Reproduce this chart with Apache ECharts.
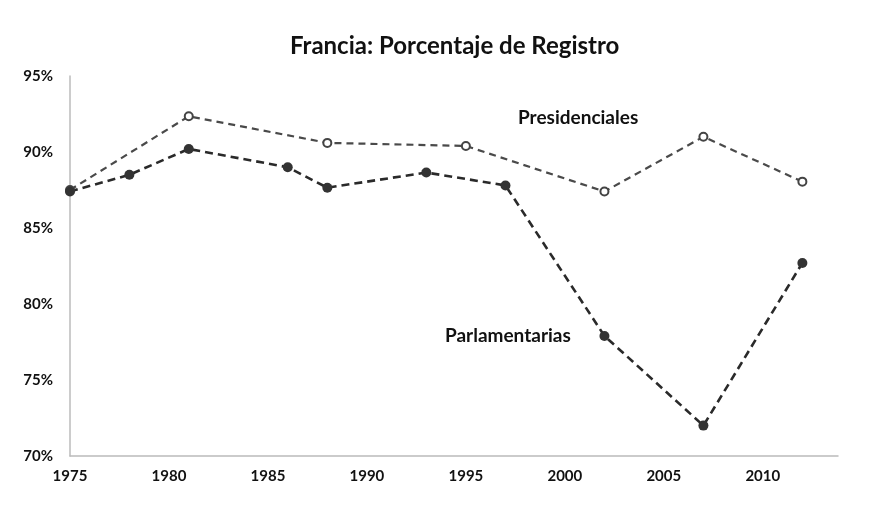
<!DOCTYPE html>
<html>
<head>
<meta charset="utf-8">
<script src="https://cdn.jsdelivr.net/npm/echarts@6/dist/echarts.min.js"></script>
<style>
  html, body { margin: 0; padding: 0; background: #fff; }
  #chart { width: 878px; height: 508px; }
</style>
</head>
<body>
<div id="chart"></div>
<script>
// años de elección y porcentaje de registro
const presYears = [1975, 1981, 1988, 1995, 2002, 2007, 2012];
const presValues = [87.5, 92.35, 90.6, 90.4, 87.4, 91.0, 88.05];
const parlYears = [1975, 1978, 1981, 1986, 1988, 1993, 1997, 2002, 2007, 2012];
const parlValues = [87.4, 88.5, 90.2, 89.0, 87.65, 88.65, 87.8, 77.9, 72.0, 82.7];

const pairs = (xs, ys) => xs.map((x, i) => [x, ys[i]]);

let myChart = echarts.init(document.getElementById('chart'));
myChart.setOption({
    animation: false,
    title: {
        text: 'Francia: Porcentaje de Registro',
        left: 285,
        top: 29,
        textStyle: { fontFamily: 'Lato', fontSize: 24, fontWeight: 'bold', color: '#111' }
    },
    grid: { left: 70, right: 40, top: 76, bottom: 52 },
    xAxis: {
        type: 'value',
        min: 1975,
        max: 2013.8,
        interval: 5,
        axisLine: { lineStyle: { color: '#bbb', width: 1.5 } },
        axisTick: { show: false },
        splitLine: { show: false },
        axisLabel: {
            formatter: v => String(v),
            showMaxLabel: false,
            margin: 13,
            fontFamily: 'Lato', fontSize: 15, fontWeight: 'bold', color: '#111'
        }
    },
    yAxis: {
        type: 'value',
        min: 70,
        max: 95,
        interval: 5,
        axisLine: { show: true, lineStyle: { color: '#bbb', width: 1.5 } },
        axisTick: { show: false },
        splitLine: { show: false },
        axisLabel: {
            formatter: '{value}%',
            margin: 17,
            fontFamily: 'Lato', fontSize: 15, fontWeight: 'bold', color: '#111'
        }
    },
    graphic: [
        { type: 'text', left: 518, top: 108, style: { text: 'Presidenciales', font: 'bold 19px Lato', fill: '#111' } },
        { type: 'text', left: 445, top: 326, style: { text: 'Parlamentarias', font: 'bold 19px Lato', fill: '#111' } }
    ],
    series: [
        {
            name: 'Presidenciales',
            type: 'line',
            data: pairs(presYears, presValues),
            symbol: 'emptyCircle',
            symbolSize: 8,
            itemStyle: { color: '#444', borderWidth: 1.5 },
            lineStyle: { color: '#4a4a4a', width: 2.2, type: [7, 5] }
        },
        {
            name: 'Parlamentarias',
            type: 'line',
            data: pairs(parlYears, parlValues),
            symbol: 'circle',
            symbolSize: 10,
            itemStyle: { color: '#333' },
            lineStyle: { color: '#2a2a2a', width: 2.6, type: [8, 5] }
        }
    ]
});
</script>
</body>
</html>
